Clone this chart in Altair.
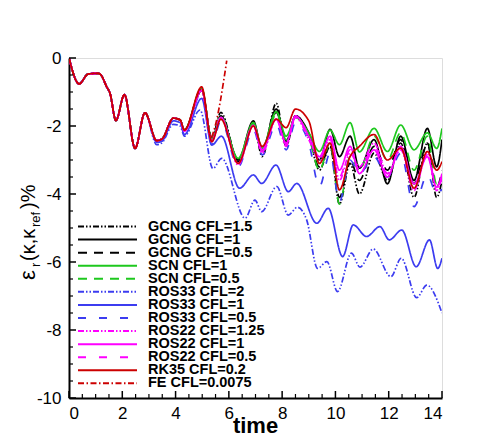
import altair as alt
import pandas as pd

# ---------------- data ----------------
series_names = [
    "GCNG CFL=1.5", "GCNG CFL=1", "GCNG CFL=0.5",
    "SCN CFL=1", "SCN CFL=0.5",
    "ROS33 CFL=2", "ROS33 CFL=1", "ROS33 CFL=0.5",
    "ROS22 CFL=1.25", "ROS22 CFL=1", "ROS22 CFL=0.5",
    "RK35 CFL=0.2", "FE CFL=0.0075",
]
series_colors = [
    "#000000", "#000000", "#000000",
    "#1ec81e", "#1ec81e",
    "#3c3cf0", "#3c3cf0", "#3c3cf0",
    "#ff00ff", "#ff00ff", "#ff00ff",
    "#cc0000", "#cc0000",
]
DDD = [6, 2, 1.5, 2, 1.5, 2]
SOL = [1, 0]
DSH_A = [9, 7]
DSH_B = [8, 13]
DDT = [6, 2.5, 1.5, 2.5]
series_dashes = [DDD, SOL, DSH_A, SOL, DSH_A, DDD, SOL, DSH_B, DDD, SOL, DSH_B, SOL, DDT]

# shared early history (all runs coincide)
common_t = [0, 0.38, 0.72, 1.1, 1.2, 1.41, 1.54, 1.76, 2.08, 2.48, 2.85, 3.29, 3.48, 3.92, 4.17]
common_v = [0, -0.76, -0.47, -0.45, -0.5, -0.84, -1.04, -1.84, -1.08, -2.66, -1.61, -2.43, -2.39, -1.77, -1.82]

# later times for the upper cluster of runs
cluster_t = [4.33, 4.98, 5.36, 5.7, 6.35, 6.92, 7.25, 7.78, 8.15, 8.5, 9.0, 9.4, 9.8,
             10.15, 10.55, 10.9, 11.45, 11.95, 12.45, 12.95, 13.45, 13.8, 14.0]
gcng15_v = [-2.12, -0.95, -2.35, -1.6, -3.0, -1.9, -2.9, -1.33, -2.6, -1.7, -2.3, -3.3, -2.6,
            -4.3, -3.1, -4.0, -2.8, -3.6, -2.5, -4.1, -2.5, -4.1, -3.6]
gcng1_v = [-2.12, -0.95, -2.4, -1.7, -3.0, -1.85, -2.7, -1.5, -2.5, -1.7, -2.2, -3.0, -2.1,
           -2.9, -2.3, -3.24, -2.4, -3.7, -2.3, -3.6, -2.07, -3.2, -2.4]
gcng05_v = [-2.12, -0.95, -2.4, -1.75, -3.05, -1.95, -2.7, -1.6, -2.45, -1.7, -2.3, -3.2, -2.6,
            -4.1, -3.0, -3.6, -2.6, -3.3, -2.4, -3.7, -2.5, -3.8, -3.3]
scn1_v = [-2.12, -0.9, -2.4, -1.75, -2.95, -1.9, -2.65, -1.58, -2.3, -1.75, -2.2, -2.75, -2.12,
          -2.55, -1.9, -2.76, -2.07, -2.75, -1.97, -2.7, -2.2, -2.66, -2.07]
scn05_v = [-2.12, -0.9, -2.4, -1.7, -3.05, -1.95, -2.75, -1.65, -2.4, -1.75, -2.3, -3.3, -2.5,
           -4.3, -2.9, -3.3, -2.3, -3.0, -2.2, -3.3, -2.3, -3.7, -3.5]
ros33_05_v = [-2.2, -1.0, -2.55, -1.85, -3.2, -2.1, -2.85, -1.95, -2.7, -1.9, -2.5, -3.78, -2.8,
              -4.23, -3.0, -3.4, -2.9, -3.5, -2.8, -4.37, -3.44, -4.0, -3.85]
ros22_125_v = [-2.15, -0.95, -2.45, -1.75, -3.15, -2.0, -2.8, -1.8, -2.6, -1.75, -2.4, -3.0, -2.4,
               -3.6, -2.8, -3.2, -2.5, -3.4, -2.7, -3.9, -2.8, -3.9, -3.5]
ros22_1_v = [-2.15, -0.95, -2.45, -1.75, -3.1, -1.98, -2.7, -1.8, -2.5, -1.7, -2.3, -2.9, -2.3,
             -3.3, -2.6, -3.4, -2.7, -3.5, -2.6, -3.7, -2.9, -3.8, -3.4]
ros22_05_v = [-2.15, -0.95, -2.45, -1.75, -3.1, -1.95, -2.75, -1.8, -2.55, -1.75, -2.3, -2.95, -2.35,
              -3.5, -2.7, -3.3, -2.6, -3.4, -2.65, -3.8, -2.85, -3.75, -3.6]
rk35_v = [-2.12, -0.85, -2.46, -1.8, -3.1, -2.0, -2.6, -1.8, -2.05, -1.5, -1.85, -3.1, -2.5,
          -3.88, -2.9, -2.6, -2.25, -3.0, -2.65, -3.83, -2.75, -3.3, -3.05]

# the two ROS33 runs that drift downwards (shared history ends at t=2.85)
ros33_1_t = [3.29, 3.48, 3.92, 4.17, 4.33, 4.98, 5.36, 5.72, 6.4, 6.92, 7.23, 7.77, 8.23, 8.55, 9.3,
             9.73, 10.27, 10.67, 11.17, 11.67, 12.02, 12.49, 13.03, 13.53, 13.84, 14.0]
ros33_1_v = [-2.48, -2.45, -1.85, -1.9, -2.25, -1.19, -2.56, -2.3, -3.83, -3.44, -3.69, -3.15, -3.93,
             -3.69, -4.86, -4.42, -5.84, -4.91, -5.25, -4.96, -5.35, -5.06, -6.14, -5.35, -6.19, -5.89]
ros33_2_t = [3.29, 3.48, 3.92, 4.17, 4.33, 4.92, 5.4, 5.73, 6.61, 6.98, 7.23, 7.8, 8.23, 8.57, 8.92,
             9.33, 9.68, 10.08, 10.6, 10.92, 11.42, 12.08, 12.47, 13.05, 13.43, 14.0]
ros33_2_v = [-2.55, -2.5, -1.95, -2.0, -2.3, -1.53, -3.25, -2.95, -4.71, -4.18, -4.52, -3.78, -4.62,
             -4.39, -4.76, -6.19, -5.99, -6.87, -5.74, -6.15, -5.62, -6.43, -5.89, -7.05, -6.68, -7.5]

# forward Euler blows up
fe_t = [4.33, 4.98, 5.33, 5.45, 5.92]
fe_v = [-2.12, -0.9, -2.35, -2.1, -0.08]

# axes
x_major = [0, 2, 4, 6, 8, 10, 12, 14]
x_minor = [0.5, 1, 1.5, 2.5, 3, 3.5, 4.5, 5, 5.5, 6.5, 7, 7.5, 8.5, 9, 9.5, 10.5, 11, 11.5, 12.5, 13, 13.5]
y_major = [0, -2, -4, -6, -8, -10]
y_minor = [-0.5, -1, -1.5, -2.5, -3, -3.5, -4.5, -5, -5.5, -6.5, -7, -7.5, -8.5, -9, -9.5]

# ---------------- build long table ----------------
later = {
    "GCNG CFL=1.5": (cluster_t, gcng15_v),
    "GCNG CFL=1": (cluster_t, gcng1_v),
    "GCNG CFL=0.5": (cluster_t, gcng05_v),
    "SCN CFL=1": (cluster_t, scn1_v),
    "SCN CFL=0.5": (cluster_t, scn05_v),
    "ROS33 CFL=2": (ros33_2_t, ros33_2_v),
    "ROS33 CFL=1": (ros33_1_t, ros33_1_v),
    "ROS33 CFL=0.5": (cluster_t, ros33_05_v),
    "ROS22 CFL=1.25": (cluster_t, ros22_125_v),
    "ROS22 CFL=1": (cluster_t, ros22_1_v),
    "ROS22 CFL=0.5": (cluster_t, ros22_05_v),
    "RK35 CFL=0.2": (cluster_t, rk35_v),
    "FE CFL=0.0075": (fe_t, fe_v),
}
rows = []
for name in series_names:
    lt, lv = later[name]
    head = [(t, v) for t, v in zip(common_t, common_v) if t < lt[0]]
    pts = head + list(zip(lt, lv))
    for t, v in pts:
        rows.append({"series": name, "t": t, "v": v})
df = pd.DataFrame(rows)

W, H = 373, 340
XMAX, YMIN = 14, -10

xs = alt.Scale(domain=[0, XMAX], nice=False, zero=False)
ys = alt.Scale(domain=[YMIN, 0], nice=False, zero=False)
cscale = alt.Scale(domain=series_names, range=series_colors)
dscale = alt.Scale(domain=series_names, range=series_dashes)

FONT = "Liberation Sans"

lines = alt.Chart(df).mark_line(strokeWidth=1.7, interpolate="monotone", clip=True).encode(
    x=alt.X("t:Q", scale=xs, axis=alt.Axis(values=x_major, labelExpr="'' + datum.value",
                                           ticks=False, grid=False, domainColor="black",
                                           domainWidth=2, labelFontSize=17, labelFont=FONT,
                                           labelColor="black", labelPadding=7, title=None,
                                           labelOverlap=False)),
    y=alt.Y("v:Q", scale=ys, axis=alt.Axis(values=y_major, labelExpr="'' + datum.value",
                                           ticks=False, grid=False, domainColor="black",
                                           domainWidth=2, labelFontSize=17, labelFont=FONT,
                                           labelColor="black", labelPadding=8, title=None,
                                           labelOverlap=False)),
    color=alt.Color("series:N", scale=cscale, legend=None),
    strokeDash=alt.StrokeDash("series:N", scale=dscale, legend=None),
)

# inward ticks
xmaj = alt.Chart(pd.DataFrame({"t": x_major})).mark_rule(color="black", strokeWidth=1.5).encode(
    x=alt.X("t:Q", scale=xs), y=alt.value(H), y2=alt.value(H - 7))
xmin = alt.Chart(pd.DataFrame({"t": x_minor})).mark_rule(color="black", strokeWidth=1.2).encode(
    x=alt.X("t:Q", scale=xs), y=alt.value(H), y2=alt.value(H - 4))
ymaj = alt.Chart(pd.DataFrame({"v": y_major})).mark_rule(color="black", strokeWidth=1.5).encode(
    y=alt.Y("v:Q", scale=ys), x=alt.value(0), x2=alt.value(7))
ymin = alt.Chart(pd.DataFrame({"v": y_minor})).mark_rule(color="black", strokeWidth=1.2).encode(
    y=alt.Y("v:Q", scale=ys), x=alt.value(0), x2=alt.value(4))

# legend drawn inside the plot (row positions computed in plot units)
leg_df = pd.DataFrame({"series": series_names, "idx": list(range(len(series_names)))})
leg_base = alt.Chart(leg_df).transform_calculate(
    ly=f"-(168.5 + datum.idx * 13.07) * {abs(YMIN)} / {H}"
)
leg_lines = leg_base.mark_rule(strokeWidth=2).encode(
    y=alt.Y("ly:Q", scale=ys),
    x=alt.value(9), x2=alt.value(68),
    color=alt.Color("series:N", scale=cscale, legend=None),
    strokeDash=alt.StrokeDash("series:N", scale=dscale, legend=None),
)
leg_text = leg_base.mark_text(align="left", baseline="middle", fontSize=14.5, fontWeight="bold",
                              font=FONT, color="black").encode(
    y=alt.Y("ly:Q", scale=ys), x=alt.value(79), text="series:N")

# axis titles
one = pd.DataFrame({"a": [0]})
def txt(s, x, y, size, angle=0, align="left", weight="normal"):
    kw = dict(text=s, fontSize=size, font=FONT, color="black", align=align,
              baseline="alphabetic", fontWeight=weight)
    if angle:
        kw["angle"] = angle
    return alt.Chart(one).mark_text(**kw).encode(x=alt.value(x), y=alt.value(y))

xtitle = txt("time", 186.5, 375, 22, align="center", weight="bold")
ytitle = [
    txt("ε", -34, 222, 22, angle=270),
    txt("r", -29, 209, 13, angle=270),
    txt("(κ,κ", -34, 203, 20, angle=270),
    txt("ref", -29, 169, 13, angle=270),
    txt(")%", -34, 151, 20, angle=270),
]

chart = alt.layer(lines, xmaj, xmin, ymaj, ymin, leg_lines, leg_text, xtitle, *ytitle).properties(
    width=W, height=H,
    autosize=alt.AutoSizeParams(type="none"),
    padding={"left": 69, "top": 58, "right": 49, "bottom": 47},
).configure_view(stroke=None).configure(background="white")

chart.save("out.html", embed_options={"renderer": "svg", "actions": False})
